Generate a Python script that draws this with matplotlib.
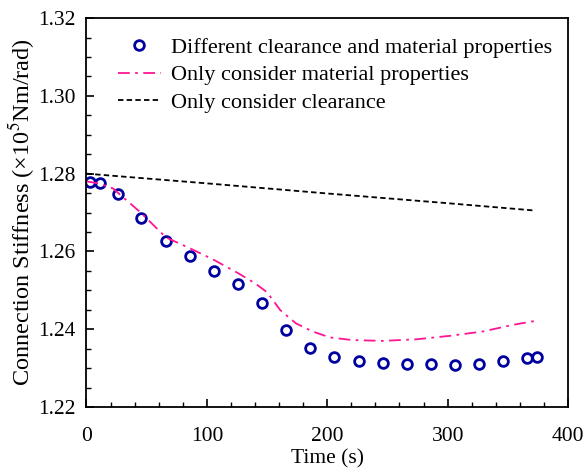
import numpy as np
import matplotlib.pyplot as plt
from matplotlib.ticker import MultipleLocator

plt.rcParams['font.family'] = ['Liberation Serif', 'DejaVu Serif']
plt.rcParams['mathtext.fontset'] = 'stix'

# Different clearance and material properties (circles)
t_both = [3, 11, 26, 45, 66, 86, 106, 126, 146, 166, 186, 206, 226, 246,
          266, 286, 306, 326, 346, 366, 374]
k_both = [1.2779, 1.2775, 1.2747, 1.2685, 1.2628, 1.2588, 1.2550, 1.2515,
          1.2468, 1.2399, 1.2352, 1.2329, 1.2318, 1.2314, 1.2311, 1.2310,
          1.2309, 1.2311, 1.2317, 1.2326, 1.2329]

# Only consider material properties (dash-dot)
t_mat = [0, 10, 22, 45, 66, 86, 106, 126, 140, 150, 161, 174, 188, 202,
         221, 246, 274, 302, 329, 354, 374]
k_mat = [1.2780, 1.2775, 1.2762, 1.2700, 1.2636, 1.2608, 1.2578, 1.2544,
         1.2518, 1.2495, 1.2449, 1.2415, 1.2394, 1.2379, 1.2372, 1.2370,
         1.2374, 1.2383, 1.2394, 1.2411, 1.2422]

# Only consider clearance (dashed)
t_cl = [0, 100, 200, 300, 373]
k_cl = [1.2800, 1.2775, 1.2749, 1.2724, 1.2705]

fig = plt.figure(figsize=(5.86, 4.76), dpi=100)
ax = fig.add_axes([0.1476, 0.145, 0.8217, 0.817])

ax.plot(t_both, k_both, linestyle='none', marker='o', markersize=7,
        markerfacecolor='none', markeredgecolor='#0000a0', markeredgewidth=2,
        label='Different clearance and material properties')
ax.plot(t_mat, k_mat, color='#ff1493', linestyle=(0, (6.5, 3, 1.5, 3)), lw=1.3,
        label='Only consider material properties')
ax.plot(t_cl, k_cl, color='black', linestyle=(0, (3, 1.8)), lw=1.3,
        label='Only consider clearance')

ax.set_xlim(0, 400)
ax.set_ylim(1.22, 1.32)
ax.xaxis.set_major_locator(MultipleLocator(100))
ax.xaxis.set_minor_locator(MultipleLocator(20))
ax.yaxis.set_major_locator(MultipleLocator(0.02))
ax.yaxis.set_minor_locator(MultipleLocator(0.005))
ax.tick_params(which='both', direction='in', top=False, right=False,
               labelsize=15.5)
ax.tick_params(axis='x', which='both', pad=14.5)
ax.tick_params(axis='y', which='both', pad=8)
ax.tick_params(which='major', length=6, width=1.2)
ax.tick_params(which='minor', length=3.5, width=1)
for s in ax.spines.values():
    s.set_linewidth(1.3)

ax.set_xlabel('Time (s)', fontsize=15.5, labelpad=2.5)
ax.set_ylabel('Connection Stiffness (×10$^5$Nm/rad)', fontsize=17.5,
              labelpad=0.5)

ax.legend(loc='upper right', bbox_to_anchor=(0.995, 0.985), frameon=False,
          fontsize=16, handlelength=1.95, handletextpad=0.45,
          labelspacing=0.32, borderaxespad=0.2)

fig.savefig('out.png', dpi=100)
